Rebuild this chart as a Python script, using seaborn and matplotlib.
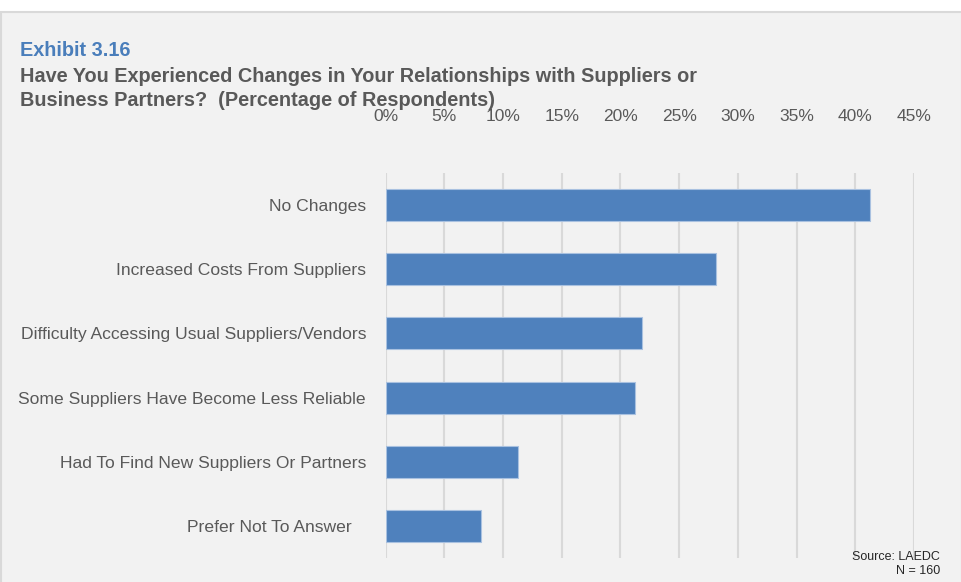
import numpy as np
import pandas as pd
import matplotlib
matplotlib.use("Agg")
import matplotlib.pyplot as plt
import seaborn as sns
from matplotlib import font_manager
from matplotlib.patches import Rectangle

categories = [
    "No Changes",
    "Increased Costs From Suppliers",
    "Difficulty Accessing Usual Suppliers/Vendors",
    "Some Suppliers Have Become Less Reliable",
    "Had To Find New Suppliers Or Partners",
    "Prefer Not To Answer   ",
]
percent = [41.25, 28.125, 21.875, 21.25, 11.25, 8.125]
xticks = [0, 5, 10, 15, 20, 25, 30, 35, 40, 45]

df = pd.DataFrame({"category": categories, "percent": percent})

sns.set_style("white")
names = {f.name for f in font_manager.fontManager.ttflist}
narrow = "Liberation Sans Narrow" if "Liberation Sans Narrow" in names else "Liberation Sans"
plt.rcParams["font.family"] = [narrow, "DejaVu Sans"]

fig = plt.figure(figsize=(9.61, 5.82), dpi=100)
fig.patch.set_facecolor("white")
panel = Rectangle((1 / 961, -0.01), 1.0, (582 - 12) / 582 + 0.01,
                  transform=fig.transFigure, facecolor="#f2f2f2",
                  edgecolor="#d9d9d9", linewidth=1.5, zorder=-5)
fig.patches.append(panel)

ax = fig.add_axes([385.5 / 961, 24 / 582, 528.5 / 961, 385 / 582])
ax.set_zorder(2)
ax.patch.set_alpha(0)
sns.barplot(data=df, x="percent", y="category", orient="h", color="#4f81bd",
            width=0.5, edgecolor="#a9c1e0", linewidth=0.8, saturation=1, ax=ax,
            zorder=3)

ax.set_xlim(0, 45)
ax.set_ylim(5.5, -0.5)
ax.set_xticks(xticks)
ax.set_xticklabels([f"{t}%" for t in xticks])
ax.xaxis.tick_top()
ax.grid(axis="x", color="#d9d9d9", linewidth=1.5, zorder=0)
ax.set_axisbelow(True)
for s in ax.spines.values():
    s.set_visible(False)
ax.set_xlabel("")
ax.set_ylabel("")
ax.tick_params(axis="x", length=0, pad=35, labelsize=12.5, labelcolor="#595959")
ax.tick_params(axis="y", length=0, pad=14, labelsize=12.6, labelcolor="#595959")

fig.text(20 / 961, 1 - 50 / 582, "Exhibit 3.16", color="#4a7ebb", fontsize=14.3,
         fontweight="bold", va="center", ha="left")
fig.text(20 / 961, 1 - 77 / 582, "Have You Experienced Changes in Your Relationships with Suppliers or",
         color="#595959", fontsize=14.3, fontweight="bold", va="center", ha="left")
fig.text(20 / 961, 1 - 100 / 582, "Business Partners?  (Percentage of Respondents)",
         color="#595959", fontsize=14.3, fontweight="bold", va="center", ha="left")
fig.text(940 / 961, 1 - 557 / 582, "Source: LAEDC", color="#262626", fontsize=9,
         va="center", ha="right")
fig.text(940 / 961, 1 - 571 / 582, "N = 160", color="#262626", fontsize=9,
         va="center", ha="right")

fig.savefig("out.png", dpi=100, facecolor=fig.get_facecolor())
